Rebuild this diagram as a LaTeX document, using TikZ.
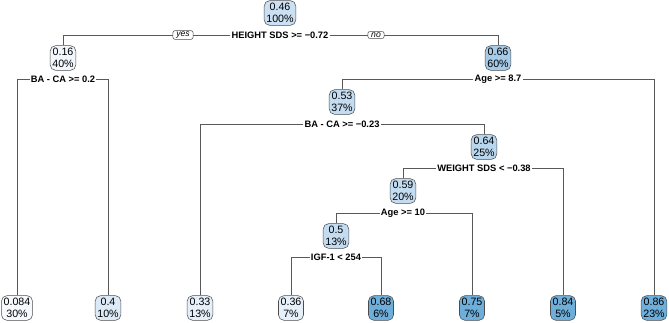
\documentclass[tikz,border=0pt]{standalone}
\usepackage{fontspec}
\setmainfont{Liberation Sans}
\usepackage{xcolor}
\usetikzlibrary{positioning}
\definecolor{Blue0}{HTML}{F6FAFE}
\definecolor{Blue1}{HTML}{F1F7FD}
\definecolor{Blue2}{HTML}{E6F0FA}
\definecolor{Blue3}{HTML}{DCEAF7}
\definecolor{Blue4}{HTML}{CCE0F3}
\definecolor{Blue5}{HTML}{C4DCF1}
\definecolor{Blue6}{HTML}{B8D6EE}
\definecolor{Blue7}{HTML}{A6CBE8}
\definecolor{Blue8}{HTML}{6EAEDA}
\tikzset{
  tnode/.style  = {draw=black!70, rounded corners=4pt, align=center,
                   inner xsep=1.6pt, inner ysep=1.8pt,
                   font=\fontsize{8}{9.2}\selectfont},
  split/.style  = {fill=white, inner sep=0.8pt,
                   font=\fontsize{7}{8}\selectfont\bfseries},
  yn/.style     = {draw=black!70, rounded corners=1.5pt, fill=white,
                   inner xsep=2.5pt, inner ysep=0.8pt,
                   font=\fontsize{6.5}{7}\selectfont\itshape},
  edge/.style   = {draw=black!65, line width=0.6pt}
}

\begin{document}
\begin{tikzpicture}[x=0.75pt, y=-0.75pt]
\useasboundingbox (0,0) rectangle (669,323);

% Root
\node[tnode, fill=Blue4] (n1) at (280,13) {0.46\\100\%};
\node[split] (s1) at (280,35) {HEIGHT SDS >= −0.72};
\node[yn] (yes) at (183,35) {yes}; \node[yn] (no) at (376,35) {no};

% Level 1
\node[tnode, fill=Blue1] (n2) at (63,58) {0.16\\40\%};
\node[split] (s2) at (63,79) {BA - CA >= 0.2};
\node[tnode, fill=Blue7] (n3) at (498,58) {0.66\\60\%};
\node[split] (s3) at (498,79) {Age >= 8.7};

% Level 2 .. 5
\node[tnode, fill=Blue5] (n6) at (342,102) {0.53\\37\%};
\node[split] (s6) at (342,124) {BA - CA >= −0.23};
\node[tnode, fill=Blue6] (n13) at (484,147) {0.64\\25\%};
\node[split] (s13) at (484,168) {WEIGHT SDS < −0.38};
\node[tnode, fill=Blue5] (n26) at (403,191) {0.59\\20\%};
\node[split] (s26) at (403,213) {Age >= 10};
\node[tnode, fill=Blue5] (n52) at (336,236) {0.5\\13\%};
\node[split] (s52) at (336,257) {IGF-1 < 254};

% Leaves
\node[tnode, fill=Blue0] (l1) at (17,308) {0.084\\30\%}; \node[tnode, fill=Blue3] (l2) at (108,308) {0.4\\10\%};
\node[tnode, fill=Blue2] (l3) at (200,308) {0.33\\13\%}; \node[tnode, fill=Blue2] (l4) at (291,308) {0.36\\7\%};
\node[tnode, fill=Blue8] (l5) at (381,308) {0.68\\6\%};  \node[tnode, fill=Blue8] (l6) at (472,308) {0.75\\7\%};
\node[tnode, fill=Blue8] (l7) at (563,308) {0.84\\5\%};  \node[tnode, fill=Blue8] (l8) at (654,308) {0.86\\23\%};

% Branches
\draw[edge] (s1.west) -- (yes.east); \draw[edge] (yes.west) -| (n2.north);
\draw[edge] (s1.east) -- (no.west);  \draw[edge] (no.east) -| (n3.north);
\draw[edge] (s2.west) -| (l1.north); \draw[edge] (s2.east) -| (l2.north);
\draw[edge] (s3.west) -| (n6.north); \draw[edge] (s3.east) -| (l8.north);
\draw[edge] (s6.west) -| (l3.north); \draw[edge] (s6.east) -| (n13.north);
\draw[edge] (s13.west) -| (n26.north); \draw[edge] (s13.east) -| (l7.north);
\draw[edge] (s26.west) -| (n52.north); \draw[edge] (s26.east) -| (l6.north);
\draw[edge] (s52.west) -| (l4.north); \draw[edge] (s52.east) -| (l5.north);
\end{tikzpicture}
\end{document}
